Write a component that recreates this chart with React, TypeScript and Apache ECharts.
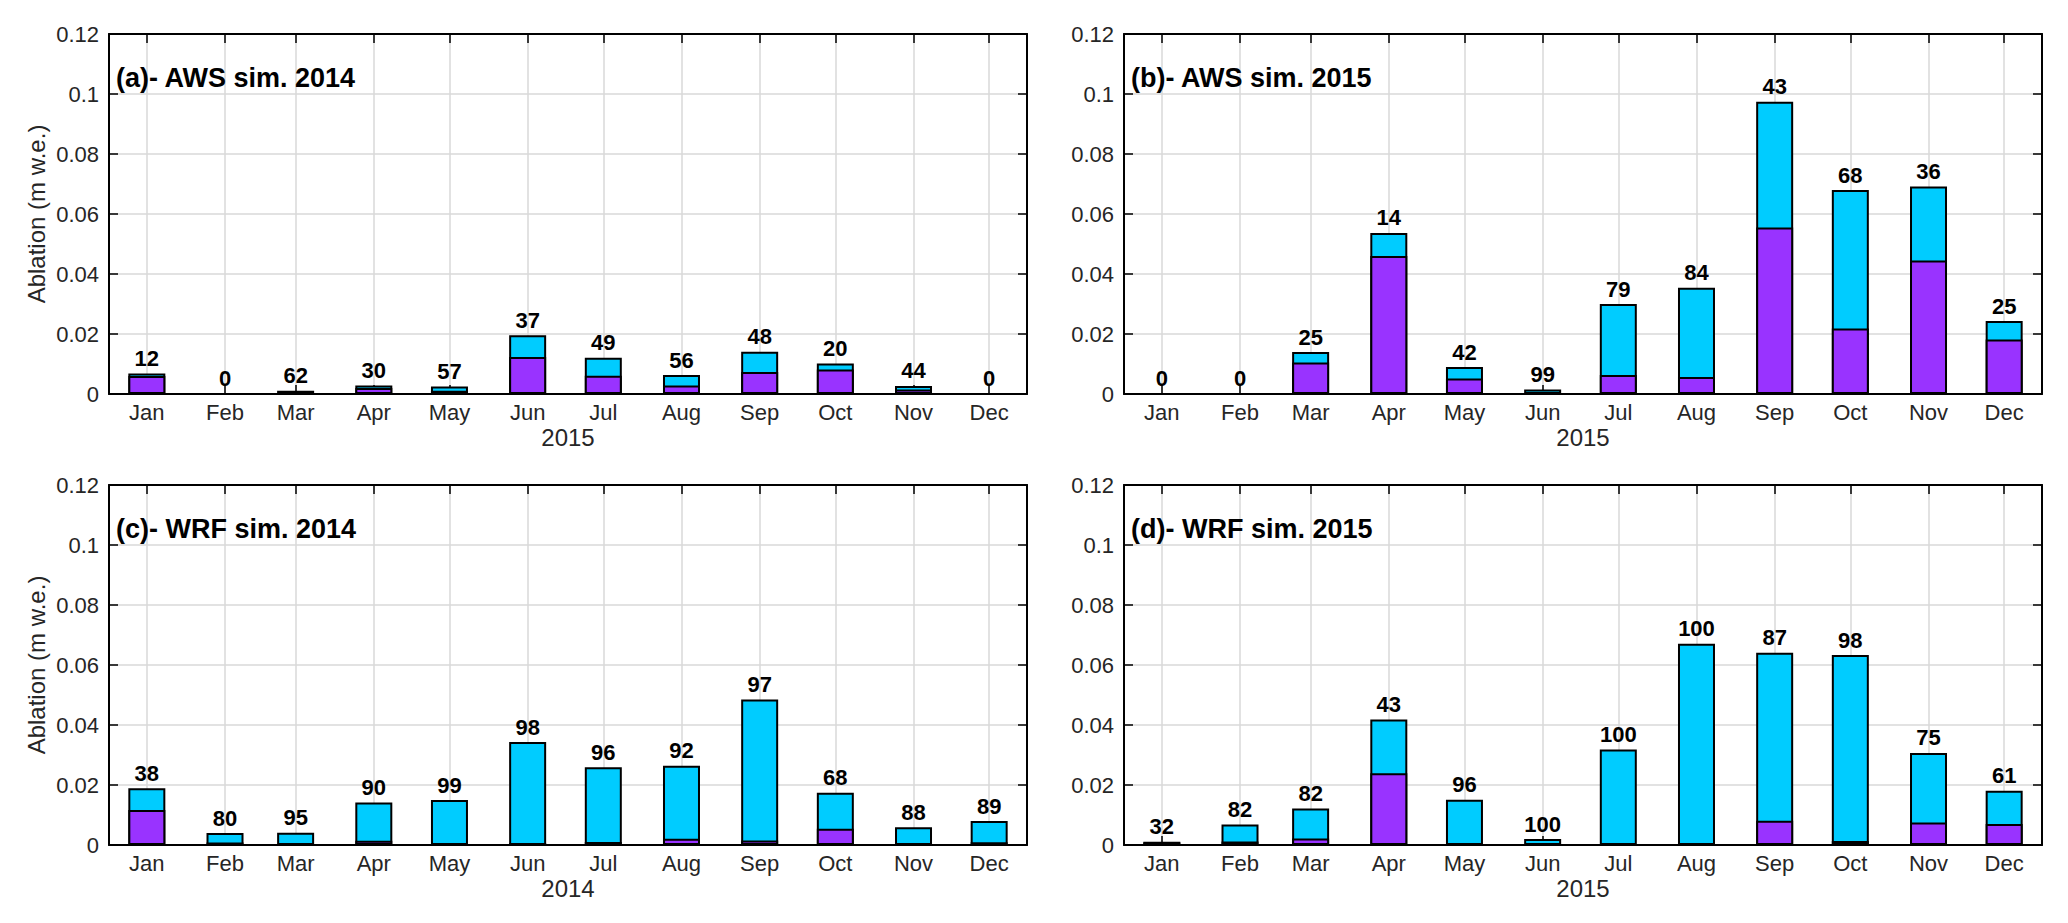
import React, { useEffect, useRef } from 'react';
import * as echarts from 'echarts';

const months = ['Jan', 'Feb', 'Mar', 'Apr', 'May', 'Jun', 'Jul', 'Aug', 'Sep', 'Oct', 'Nov', 'Dec'];
// day of year of the 1st of each month (bars sit on a date axis)
const monthDay = months.map((_, m) => (Date.UTC(2015, m, 1) - Date.UTC(2015, 0, 1)) / 86400000);

// (a) AWS sim. 2014
const aPurple = [0.006, 0, 0.0004, 0.002, 0.0011, 0.0123, 0.0061, 0.0028, 0.0073, 0.0082, 0.0015, 0];
const aCyan = [0.0008, 0, 0.0007, 0.0008, 0.0014, 0.0073, 0.006, 0.0035, 0.0068, 0.002, 0.0012, 0];
const aLabels = ['12', '0', '62', '30', '57', '37', '49', '56', '48', '20', '44', '0'];

// (b) AWS sim. 2015
const bPurple = [0, 0, 0.0105, 0.046, 0.0052, 0, 0.0063, 0.0057, 0.0555, 0.0218, 0.0445, 0.0182];
const bCyan = [0, 0, 0.0035, 0.0077, 0.0038, 0.0015, 0.0237, 0.0297, 0.0419, 0.0462, 0.0247, 0.0061];
const bLabels = ['0', '0', '25', '14', '42', '99', '79', '84', '43', '68', '36', '25'];

// (c) WRF sim. 2014
const cPurple = [0.0117, 0.0008, 0.0002, 0.0014, 0.0002, 0.0007, 0.001, 0.0021, 0.0015, 0.0054, 0.0007, 0.0009];
const cCyan = [0.0072, 0.0032, 0.0039, 0.0128, 0.0148, 0.0336, 0.0249, 0.0243, 0.047, 0.012, 0.0052, 0.0071];
const cLabels = ['38', '80', '95', '90', '99', '98', '96', '92', '97', '68', '88', '89'];

// (d) WRF sim. 2015
const dPurple = [0.0008, 0.0012, 0.0022, 0.0239, 0.0006, 0, 0, 0, 0.0081, 0.0013, 0.0075, 0.007];
const dCyan = [0.0003, 0.0056, 0.01, 0.0179, 0.0145, 0.002, 0.0318, 0.0671, 0.056, 0.062, 0.0232, 0.0111];
const dLabels = ['32', '82', '82', '43', '96', '100', '100', '100', '87', '98', '75', '61'];

const FONT = '"Liberation Sans", Arial, Helvetica, sans-serif';

export default function App() {
    const chartRef = useRef<HTMLDivElement>(null);

    useEffect(() => {
        if (!chartRef.current) return;
        const chart = echarts.init(chartRef.current, null, { renderer: 'svg' });

        const panels = [
            { title: '(a)- AWS sim. 2014', year: '2015', purple: aPurple, cyan: aCyan, labels: aLabels, left: 109, top: 34, yName: true },
            { title: '(b)- AWS sim. 2015', year: '2015', purple: bPurple, cyan: bCyan, labels: bLabels, left: 1124, top: 34, yName: false },
            { title: '(c)- WRF sim. 2014', year: '2014', purple: cPurple, cyan: cCyan, labels: cLabels, left: 109, top: 485, yName: true },
            { title: '(d)- WRF sim. 2015', year: '2015', purple: dPurple, cyan: dCyan, labels: dLabels, left: 1124, top: 485, yName: false },
        ];

        const axisLine = { show: true, onZero: false, lineStyle: { color: '#000', width: 2 } };
        const tick = { show: true, inside: true, length: 9, lineStyle: { color: '#000', width: 1.5 } };
        const grey = { show: true, lineStyle: { color: '#d9d9d9', width: 1.5 } };

        const grid: any[] = [];
        const xAxis: any[] = [];
        const yAxis: any[] = [];
        const series: any[] = [];
        const title: any[] = [];

        panels.forEach((p, i) => {
            grid.push({ left: p.left, top: p.top, width: 918, height: 360 });
            title.push({
                text: p.title, left: p.left + 7, top: p.top + 30, padding: 0,
                textStyle: { fontSize: 27, fontWeight: 'bold', color: '#000', fontFamily: FONT },
            });
            xAxis.push({
                type: 'value', gridIndex: i, position: 'bottom', min: -15, max: 349,
                axisLine, axisTick: { ...tick, customValues: monthDay },
                axisLabel: {
                    customValues: monthDay, margin: 7, fontSize: 22, color: '#262626', fontFamily: FONT,
                    formatter: (v: number) => months[monthDay.indexOf(v)] ?? '',
                },
                splitLine: grey,
                name: p.year, nameLocation: 'middle', nameGap: 31,
                nameTextStyle: { fontSize: 24, color: '#262626', fontFamily: FONT },
            });
            xAxis.push({
                type: 'value', gridIndex: i, position: 'top', min: -15, max: 349,
                axisLine, axisTick: { ...tick, customValues: monthDay },
                axisLabel: { show: false }, splitLine: { show: false },
            });
            yAxis.push({
                type: 'value', gridIndex: i, position: 'left', min: 0, max: 0.12, interval: 0.02,
                axisLine, axisTick: tick, splitLine: grey,
                axisLabel: {
                    margin: 10, fontSize: 22, color: '#262626', fontFamily: FONT,
                    formatter: (v: number) => String(Number(v.toFixed(2))),
                },
                name: p.yName ? 'Ablation (m w.e.)' : '', nameLocation: 'middle', nameGap: 61,
                nameTextStyle: { fontSize: 24, color: '#262626', fontFamily: FONT },
            });
            yAxis.push({
                type: 'value', gridIndex: i, position: 'right', min: 0, max: 0.12, interval: 0.02,
                axisLine, axisTick: tick, axisLabel: { show: false }, splitLine: { show: false },
            });
            // cyan part sits on the purple part: draw the whole bar in cyan, then the purple base over it
            const common = {
                type: 'bar', xAxisIndex: 2 * i, yAxisIndex: 2 * i, barWidth: 37, barGap: '-100%',
            };
            series.push({
                ...common,
                name: 'cyan' + i,
                data: monthDay.map((d, k) => [d, p.purple[k] + p.cyan[k]]),
                itemStyle: { color: '#00ccff', borderColor: '#000', borderWidth: 2 },
                label: {
                    show: true, position: 'top', distance: 4,
                    formatter: (q: any) => p.labels[q.dataIndex],
                    fontSize: 22, fontWeight: 'bold', color: '#000', fontFamily: FONT,
                },
            });
            series.push({
                ...common,
                name: 'purple' + i,
                data: monthDay.map((d, k) => [d, p.purple[k]]),
                itemStyle: { color: '#9933ff', borderColor: '#000', borderWidth: 2 },
            });
        });

        chart.setOption({
            animation: false,
            backgroundColor: '#fff',
            textStyle: { fontFamily: FONT },
            title, grid, xAxis, yAxis, series,
        });

        return () => chart.dispose();
    }, []);

    return <div ref={chartRef} style={{ position: 'absolute', left: 0, top: 0, width: 2068, height: 923 }} />;
}
